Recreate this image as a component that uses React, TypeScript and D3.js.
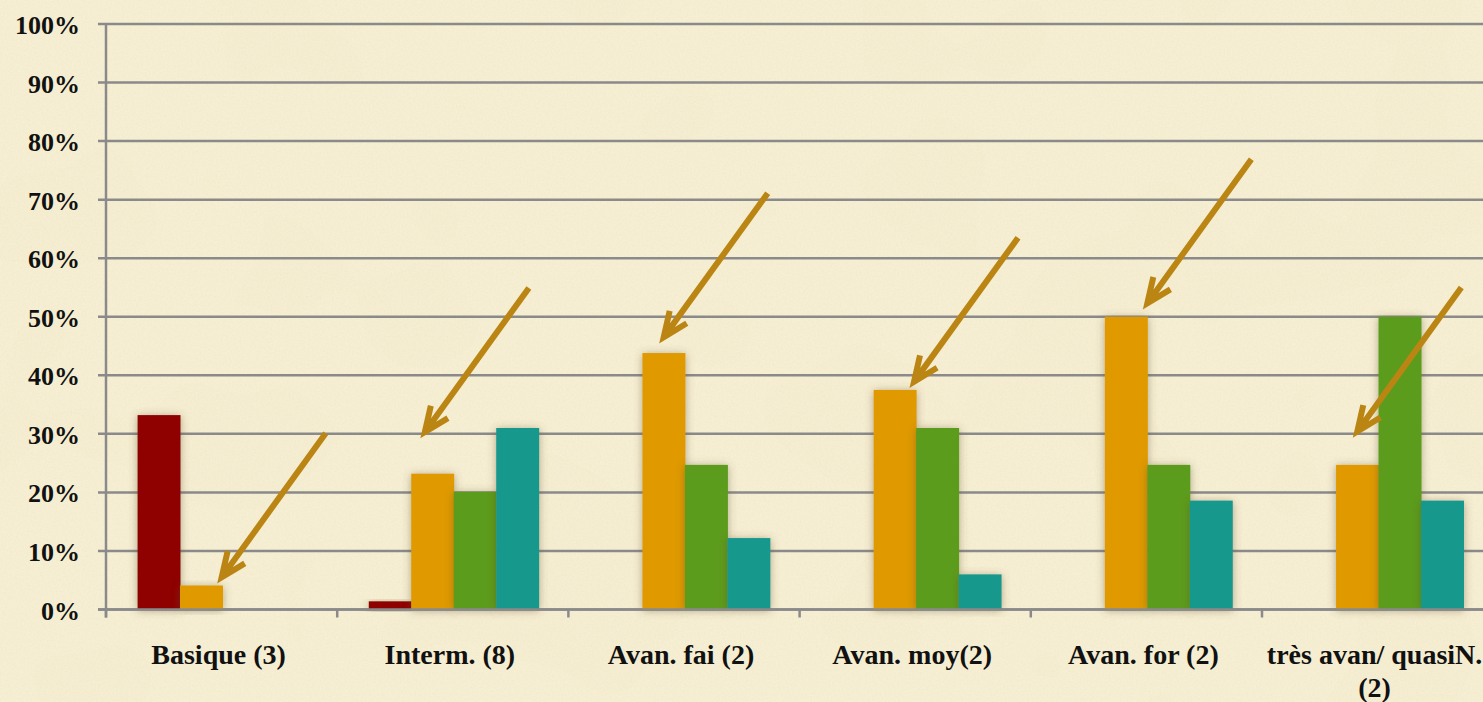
import * as d3 from 'd3';
import { useEffect, useRef } from 'react';

const categories = [
  'Basique (3)',
  'Interm. (8)',
  'Avan. fai (2)',
  'Avan. moy(2)',
  'Avan. for (2)',
  'très avan/ quasiN. (2)',
];
const seriesNames = ['s1', 's2', 's3', 's4'];
const seriesColors = ['#8f0000', '#e09a00', '#5b9c1b', '#17988d'];
const serie1 = [33.2, 1.4, 0, 0, 0, 0];
const serie2 = [4.1, 23.2, 43.8, 37.5, 50, 24.7];
const serie3 = [0, 20.1, 24.7, 31.0, 24.7, 50];
const serie4 = [0, 31.0, 12.2, 6.0, 18.6, 18.6];
const yTicks = [0, 10, 20, 30, 40, 50, 60, 70, 80, 90, 100];

// arrows pointing at the orange bars: tip value (%) and position across the bar
const arrowTips = [5.5, 30.3, 46.5, 38.9, 52.3, 30.4];
const arrowAlong = [0.98, 0.32, 0.5, 0.95, 1, 0.5];
const arrowRise = 24.6; // % units
const arrowRun = 0.45; // fraction of a category step

const W = 1483;
const H = 702;
const FONT = '"Liberation Serif", "Times New Roman", serif';

export default function App() {
  const svgRef = useRef<SVGSVGElement>(null);

  useEffect(() => {
    if (!svgRef.current) return;
    const svg = d3.select(svgRef.current);
    svg.selectAll('*').remove();

    const values = [serie1, serie2, serie3, serie4];
    const axisLeft = 106;
    const step = 231.2;

    const y = d3.scaleLinear().domain([0, 100]).range([609.5, 24]);
    const x = d3.scaleBand<string>()
      .domain(categories)
      .range([axisLeft, axisLeft + step * categories.length])
      .paddingInner(0.265)
      .paddingOuter(0.1325)
      .align(0.515);
    const sub = d3.scaleBand<string>().domain(seriesNames).range([0, x.bandwidth()]);

    const defs = svg.append('defs');
    const paper = defs.append('filter').attr('id', 'paper').attr('x', 0).attr('y', 0).attr('width', 1).attr('height', 1);
    paper.append('feTurbulence').attr('type', 'fractalNoise').attr('baseFrequency', 0.55).attr('numOctaves', 3).attr('seed', 4);
    paper.append('feColorMatrix').attr('type', 'matrix')
      .attr('values', '0 0 0 0 0.6  0 0 0 0 0.5  0 0 0 0 0.3  0.16 0 0 0 -0.05');
    const blot = defs.append('filter').attr('id', 'blot').attr('x', 0).attr('y', 0).attr('width', 1).attr('height', 1);
    blot.append('feTurbulence').attr('type', 'fractalNoise').attr('baseFrequency', 0.006).attr('numOctaves', 2).attr('seed', 9);
    blot.append('feColorMatrix').attr('type', 'matrix')
      .attr('values', '0 0 0 0 0.88  0 0 0 0 0.78  0 0 0 0 0.58  0.22 0 0 0 -0.08');
    const shadow = defs.append('filter').attr('id', 'shadow').attr('x', -0.5).attr('y', -0.2).attr('width', 2).attr('height', 1.4);
    shadow.append('feDropShadow').attr('dx', 0).attr('dy', 1).attr('stdDeviation', 4)
      .attr('flood-color', '#5a4a2a').attr('flood-opacity', 0.45);

    // background
    svg.append('rect').attr('width', W).attr('height', H).attr('fill', '#f6efd3');
    svg.append('rect').attr('width', W).attr('height', H).attr('filter', 'url(#blot)');
    svg.append('rect').attr('width', W).attr('height', H).attr('filter', 'url(#paper)');

    const grid = '#8a8a8a';

    // gridlines
    svg.append('g').selectAll('line')
      .data(yTicks)
      .join('line')
      .attr('x1', axisLeft - 8)
      .attr('x2', W)
      .attr('y1', d => y(d))
      .attr('y2', d => y(d))
      .attr('stroke', grid)
      .attr('stroke-width', 2.5);

    // bars
    const groups = svg.append('g').selectAll('g')
      .data(categories)
      .join('g')
      .attr('transform', d => `translate(${x(d)},0)`);
    groups.selectAll('rect')
      .data((_, i) => seriesNames.map((s, k) => ({ s, k, v: values[k][i] })).filter(d => d.v > 0))
      .join('rect')
      .attr('x', d => sub(d.s) ?? 0)
      .attr('y', d => y(d.v))
      .attr('width', sub.bandwidth() + 0.5)
      .attr('height', d => y(0) - y(d.v))
      .attr('fill', d => seriesColors[d.k])
      .attr('filter', 'url(#shadow)');

    // axes
    svg.append('line')
      .attr('x1', axisLeft).attr('x2', axisLeft)
      .attr('y1', y(100)).attr('y2', y(0) + 8)
      .attr('stroke', grid).attr('stroke-width', 2.5);
    svg.append('line')
      .attr('x1', axisLeft - 8).attr('x2', W)
      .attr('y1', y(0)).attr('y2', y(0))
      .attr('stroke', grid).attr('stroke-width', 2.5);
    svg.append('g').selectAll('line')
      .data(d3.range(categories.length + 1))
      .join('line')
      .attr('x1', i => axisLeft + i * x.step())
      .attr('x2', i => axisLeft + i * x.step())
      .attr('y1', y(0))
      .attr('y2', y(0) + 8)
      .attr('stroke', grid)
      .attr('stroke-width', 2.5);

    // y labels
    svg.append('g').selectAll('text')
      .data(yTicks)
      .join('text')
      .attr('x', 80)
      .attr('y', d => y(d) + 10)
      .attr('text-anchor', 'end')
      .style('font-family', FONT)
      .style('font-weight', 'bold')
      .style('font-size', '26px')
      .style('fill', '#111')
      .text(d => `${d}%`);

    // x labels (wrapped to the category width)
    const labels = svg.append('g').selectAll('text')
      .data(categories)
      .join('text')
      .attr('text-anchor', 'middle')
      .style('font-family', FONT)
      .style('font-weight', 'bold')
      .style('font-size', '28px')
      .style('fill', '#111');
    labels.each(function (d, i) {
      const t = d3.select(this);
      const cx = axisLeft + (i + 0.5) * x.step() - 3;
      const words = d.split(' ');
      let line: string[] = [];
      let lineNo = 0;
      let tspan = t.append('tspan').attr('x', cx).attr('y', 663.5);
      for (const w of words) {
        line.push(w);
        tspan.text(line.join(' '));
        if ((tspan.node() as SVGTSpanElement).getComputedTextLength() > x.step() - 4 && line.length > 1) {
          line.pop();
          tspan.text(line.join(' '));
          line = [w];
          lineNo += 1;
          tspan = t.append('tspan').attr('x', cx).attr('y', 663.5 + lineNo * 33).text(w);
        }
      }
    });

    // arrows
    const arrowColor = '#bb8514';
    const arrowData = categories.map((c, i) => {
      const tx = (x(c) ?? 0) + (sub('s2') ?? 0) + arrowAlong[i] * sub.bandwidth();
      const ty = y(arrowTips[i]);
      const sx = tx + arrowRun * x.step();
      const sy = y(arrowTips[i] + arrowRise);
      return { tx, ty, sx, sy };
    });
    const head = 27;
    const spread = (23 * Math.PI) / 180;
    svg.append('g').selectAll('path')
      .data(arrowData)
      .join('path')
      .attr('d', a => {
        const th = Math.atan2(a.sy - a.ty, a.sx - a.tx);
        const p1 = [a.tx + head * Math.cos(th - spread), a.ty + head * Math.sin(th - spread)];
        const p2 = [a.tx + head * Math.cos(th + spread), a.ty + head * Math.sin(th + spread)];
        return `M${a.sx},${a.sy}L${a.tx + 2 * Math.cos(th)},${a.ty + 2 * Math.sin(th)}` +
          `M${p1[0]},${p1[1]}L${a.tx},${a.ty}L${p2[0]},${p2[1]}`;
      })
      .attr('fill', 'none')
      .attr('stroke', arrowColor)
      .attr('stroke-width', 6)
      .attr('stroke-linejoin', 'miter')
      .attr('stroke-linecap', 'butt');
  }, []);

  return (
    <svg
      ref={svgRef}
      width={W}
      height={H}
      style={{ position: 'absolute', left: 0, top: 0, display: 'block' }}
    />
  );
}
